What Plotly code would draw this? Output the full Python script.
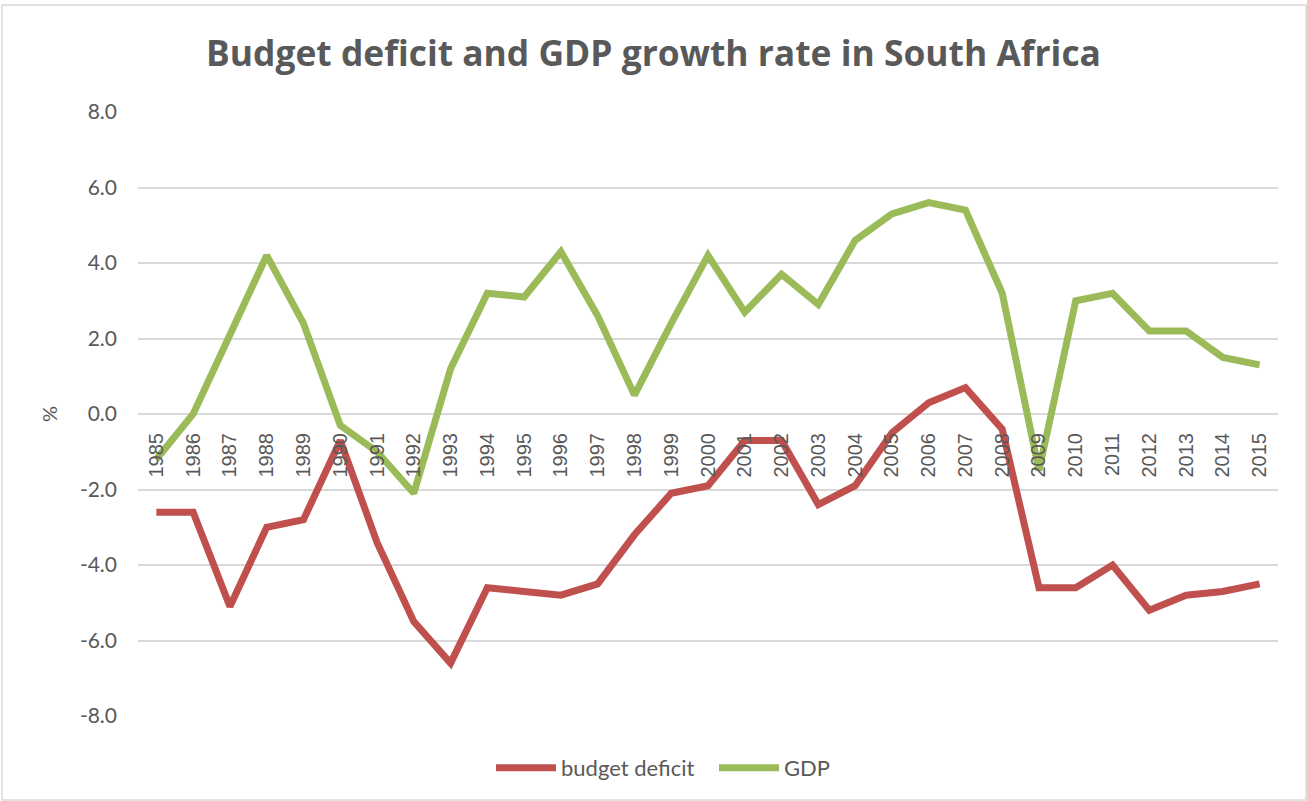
import plotly.graph_objects as go

# Annual series, 1985-2015 (% of GDP / % growth)
years = list(range(1985, 2016))
budget_deficit = [-2.6, -2.6, -5.1, -3.0, -2.8, -0.7, -3.4, -5.5, -6.6, -4.6,
                  -4.7, -4.8, -4.5, -3.2, -2.1, -1.9, -0.7, -0.7, -2.4, -1.9,
                  -0.5, 0.3, 0.7, -0.4, -4.6, -4.6, -4.0, -5.2, -4.8, -4.7,
                  -4.5]
gdp_growth = [-1.2, 0.0, 2.1, 4.2, 2.4, -0.3, -1.0, -2.1, 1.2, 3.2,
              3.1, 4.3, 2.6, 0.5, 2.4, 4.2, 2.7, 3.7, 2.9, 4.6,
              5.3, 5.6, 5.4, 3.2, -1.5, 3.0, 3.2, 2.2, 2.2, 1.5,
              1.3]
y_ticks = [-8, -6, -4, -2, 0, 2, 4, 6, 8]

TEXT = "#595959"
GRID = "#D9D9D9"
FONT = "Lato"

fig = go.Figure()
fig.add_trace(go.Scatter(
    x=years, y=budget_deficit, mode="lines", name="budget deficit",
    line=dict(color="#C0504D", width=7), cliponaxis=False,
))
fig.add_trace(go.Scatter(
    x=years, y=gdp_growth, mode="lines", name="GDP",
    line=dict(color="#9BBB59", width=7), cliponaxis=False,
))

# light frame around the whole chart
fig.add_shape(type="rect", xref="paper", yref="paper",
              x0=-136 / 1140, x1=1 + 28 / 1140, y0=-84 / 604, y1=1 + 107 / 604,
              line=dict(color=GRID, width=1.5), fillcolor="rgba(0,0,0,0)")

fig.update_layout(
    width=1307, height=801,
    margin=dict(l=138, r=29, t=112, b=85),
    paper_bgcolor="white", plot_bgcolor="white",
    font=dict(family=FONT, color=TEXT),
    title=dict(
        text="<b>Budget deficit and GDP growth rate in South Africa</b>",
        x=0.5, xanchor="center", y=1 - 54 / 801, yanchor="middle",
        font=dict(family="Open Sans", size=35.4, color=TEXT),
    ),
    showlegend=True,
    legend=dict(
        orientation="h", x=(499 - 138 - 8) / 1140, xanchor="left",
        y=-52 / 604, yanchor="middle",
        font=dict(family=FONT, size=22, color=TEXT), bgcolor="rgba(0,0,0,0)",
        itemwidth=60, entrywidth=148, tracegroupgap=0,
    ),
    xaxis=dict(
        range=[1984.5, 2015.5], tickmode="array", tickvals=years,
        ticktext=[str(y) for y in years], tickangle=-90,
        anchor="free", position=0.5, showline=False, showgrid=False,
        zeroline=False, ticks="", ticklabelstandoff=14,
        tickfont=dict(family="Liberation Sans", size=20, color=TEXT),
    ),
    yaxis=dict(
        range=[-8, 8], tickmode="array", tickvals=y_ticks,
        ticktext=[f"{v:.1f}" for v in y_ticks],
        showgrid=True, gridcolor=GRID, gridwidth=1.5,
        zeroline=False, showline=False, ticks="", ticklabelstandoff=20,
        tickfont=dict(family=FONT, size=21, color=TEXT),
        title=dict(text="%", standoff=16, font=dict(family=FONT, size=20, color=TEXT)),
    ),
)

fig.write_html("out.html")
